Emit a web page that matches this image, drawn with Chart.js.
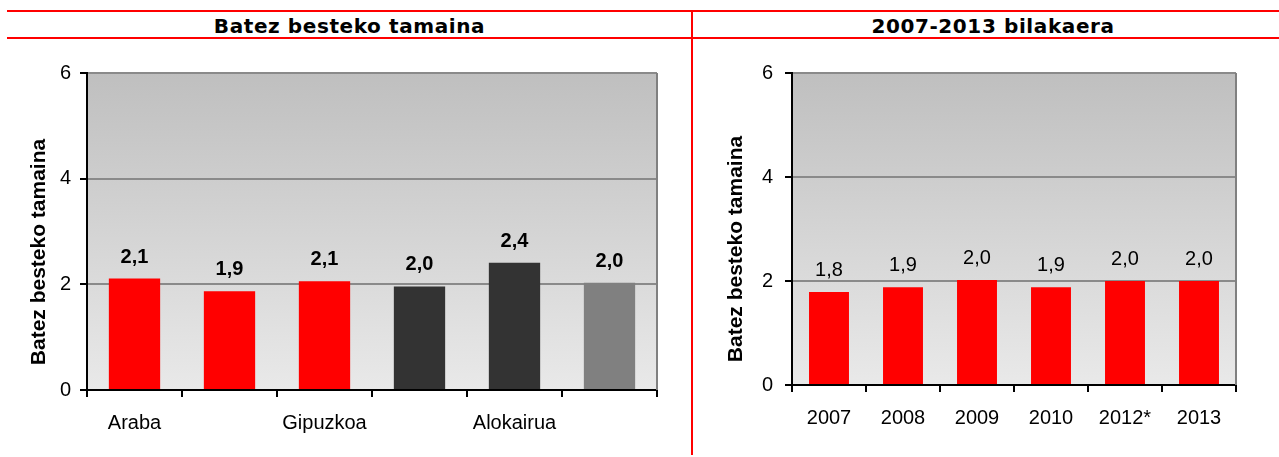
<!DOCTYPE html>
<html>
<head>
<meta charset="utf-8">
<script src="https://cdn.jsdelivr.net/npm/chart.js@4.4.0/dist/chart.umd.min.js"></script>
<style>
  body { margin: 0; background: #fff; width: 1279px; height: 457px; position: relative; overflow: hidden; }
  .red { position: absolute; background: #ff0000; }
  .title { position: absolute; top: 14px; height: 23px; line-height: 23px; text-align: center;
           font: bold 20px "DejaVu Sans", Verdana, sans-serif; letter-spacing: 0.6px; color: #000; }
  canvas { position: absolute; top: 40px; }
</style>
</head>
<body>
<div class="red" style="left:7px;top:10px;width:1272px;height:2px"></div>
<div class="red" style="left:7px;top:37px;width:1272px;height:2px"></div>
<div class="red" style="left:691px;top:10px;width:2px;height:445px"></div>
<div class="title" style="left:7px;width:685px">Batez besteko tamaina</div>
<div class="title" style="left:700px;width:586px">2007-2013 bilakaera</div>

<canvas id="left" width="692" height="417" style="left:0px"></canvas>
<canvas id="right" width="587" height="417" style="left:692px"></canvas>

<script>
// datuak
const mainLabels = ['Araba', '', 'Gipuzkoa', '', 'Alokairua', ''];
const mainValues = [2.11, 1.87, 2.06, 1.96, 2.41, 2.03];
const mainColors = ['#ff0000', '#ff0000', '#ff0000', '#333333', '#333333', '#808080'];

const yearLabels = ['2007', '2008', '2009', '2010', '2012*', '2013'];
const yearValues = [1.79, 1.88, 2.02, 1.88, 2.0, 2.0];

const yMin = 0, yMax = 6, yStep = 2;
const axisTitle = 'Batez besteko tamaina';

const FONT = 'Arial, "Liberation Sans", sans-serif';

// background gradient, right border, value labels and y title
const frame = {
  id: 'frame',
  beforeDraw(chart) {
    const { ctx, chartArea: a } = chart;
    const g = ctx.createLinearGradient(0, a.top, 0, a.bottom);
    g.addColorStop(0, '#bfbfbf');
    g.addColorStop(1, '#e9e9e9');
    ctx.save();
    ctx.fillStyle = g;
    ctx.fillRect(a.left, a.top, a.right - a.left, a.bottom - a.top);
    ctx.restore();
  },
  afterDatasetsDraw(chart, args, opts) {
    const { ctx, chartArea: a } = chart;
    ctx.save();
    ctx.strokeStyle = '#808080';
    ctx.lineWidth = 2;
    ctx.beginPath();
    ctx.moveTo(a.right, a.top);
    ctx.lineTo(a.right, a.bottom);
    ctx.stroke();

    const values = chart.data.datasets[0].data;
    ctx.fillStyle = '#000';
    ctx.font = (opts.bold ? 'bold ' : '') + '20px ' + FONT;
    ctx.textAlign = 'center';
    ctx.textBaseline = 'alphabetic';
    chart.getDatasetMeta(0).data.forEach((bar, i) => {
      ctx.fillText(values[i].toFixed(1).replace('.', ','), bar.x, bar.y - 16);
    });

    ctx.translate(opts.titleX, opts.titleY);
    ctx.rotate(-Math.PI / 2);
    ctx.font = 'bold 21px ' + FONT;
    ctx.textBaseline = 'middle';
    ctx.fillText(axisTitle, 0, 0);
    ctx.restore();
  }
};

function makeChart(id, labels, values, colors, o) {
  return new Chart(document.getElementById(id), {
    type: 'bar',
    data: {
      labels: labels,
      datasets: [{
        data: values,
        backgroundColor: colors,
        borderWidth: 0,
        barPercentage: 0.54,
        categoryPercentage: 1
      }]
    },
    options: {
      responsive: false,
      animation: false,
      layout: { padding: { top: 33, right: o.padRight, left: 0, bottom: 0 } },
      plugins: {
        legend: { display: false },
        tooltip: { enabled: false },
        frame: { bold: o.bold, titleX: o.titleX, titleY: o.titleY }
      },
      scales: {
        x: {
          afterFit(scale) { scale.height = o.xHeight; },
          grid: { drawOnChartArea: false, color: '#000', lineWidth: 2, tickLength: 7 },
          border: { color: '#000', width: 2 },
          ticks: { color: '#000', padding: 14, font: { family: FONT, size: 20 }, maxRotation: 0, autoSkip: false }
        },
        y: {
          min: yMin,
          max: yMax,
          afterFit(scale) { scale.width = o.yWidth; },
          grid: { color: '#8a8a8a', lineWidth: 2, tickColor: '#000', tickLength: 7 },
          border: { color: '#000', width: 2 },
          ticks: { stepSize: yStep, color: '#000', padding: o.tickPad, font: { family: FONT, size: 20 } }
        }
      }
    },
    plugins: [frame]
  });
}

makeChart('left', mainLabels, mainValues, mainColors,
  { padRight: 35, xHeight: 67, yWidth: 87, tickPad: 9, bold: true, titleX: 39, titleY: 212 });
makeChart('right', yearLabels, yearValues, yearValues.map(() => '#ff0000'),
  { padRight: 43, xHeight: 72, yWidth: 100, tickPad: 12, bold: false, titleX: 44, titleY: 209 });
</script>
</body>
</html>
